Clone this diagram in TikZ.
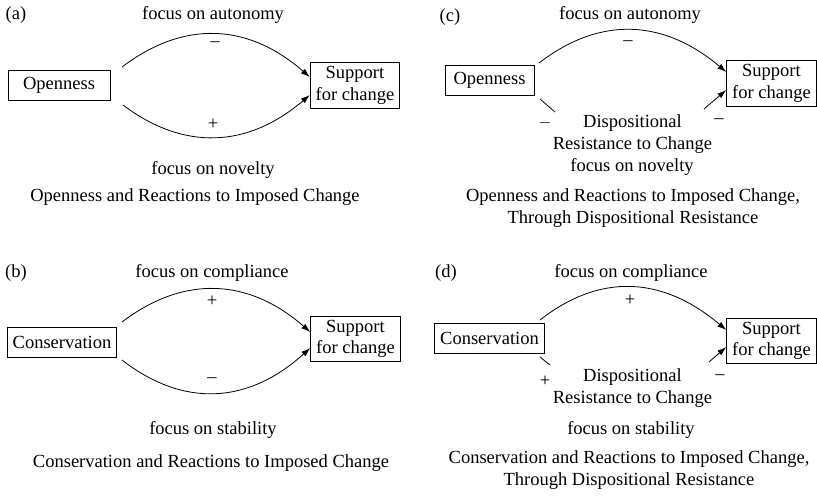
\documentclass[tikz,border=0pt]{standalone}
\usepackage{fontspec}
\setmainfont{Liberation Serif}
\usetikzlibrary{arrows.meta}

\tikzset{
  lbl/.style={font=\fontsize{18.5}{21.5}\selectfont, inner sep=0pt, align=center},
  varbox/.style={draw, line width=0.9pt, font=\fontsize{18.5}{21.5}\selectfont,
    inner xsep=5.5pt, inner ysep=4pt, minimum height=30pt, align=center},
  link/.style={line width=0.8pt},
  linkarrow/.style={link, -{Latex[length=9pt,width=6pt]}}
}

\begin{document}
\begin{tikzpicture}[x=1pt,y=-1pt]
\useasboundingbox (0,0) rectangle (817,496);

% (a) openness
\draw(16,15) node[lbl] (taga) {(a)};
\draw(213,15) node[lbl] (autoa) {focus on autonomy};
\draw(59,85) node[varbox, minimum width=102pt] (opena) {Openness};
\draw(355,85.5) node[varbox] (supa) {Support\\for change};
\coordinate (opena1) at (122,67);
\coordinate (opena2) at (123,105);
\draw[linkarrow] (opena1) .. controls +(62,-47) and +(-62,-54) .. ([yshift=8.5pt]supa.west);
\draw[linkarrow] (opena2) .. controls +(61,46) and +(-62,53) .. ([yshift=-9.5pt]supa.west);
\draw(215,44) node[lbl] (signa1) {\textendash};
\draw(213,124) node[lbl] (signa2) {+};
\draw(213,170) node[lbl] (novela) {focus on novelty};
\draw(195,197) node[lbl] (capa) {Openness and Reactions to Imposed Change};

% (b) conservation
\draw(16,273) node[lbl] (tagb) {(b)};
\draw(212,273) node[lbl] (complb) {focus on compliance};
\draw(62,342) node[varbox] (consb) {Conservation};
\draw(355.5,339) node[varbox] (supb) {Support\\for change};
\coordinate (consb1) at (122,322);
\coordinate (consb2) at (122,360);
\draw[linkarrow] (consb1) .. controls +(62,-47) and +(-62,-54) .. ([yshift=7pt]supb.west);
\draw[linkarrow] (consb2) .. controls +(62,48) and +(-62,56) .. ([yshift=-9pt]supb.west);
\draw(212,301) node[lbl] (signb1) {+};
\draw(212,380) node[lbl] (signb2) {\textendash};
\draw(213,430) node[lbl] (stabb) {focus on stability};
\draw(211,463) node[lbl] (capb) {Conservation and Reactions to Imposed Change};

% (c) openness, through resistance
\draw(450,17) node[lbl] (tagc) {(c)};
\draw(630,15) node[lbl] (autoc) {focus on autonomy};
\draw(489.5,80.5) node[varbox, minimum width=89pt] (openc) {Openness};
\draw(771.5,83.5) node[varbox] (supc) {Support\\for change};
\coordinate (openc1) at (539,63);
\coordinate (openc2) at (540,99);
\coordinate (resc1) at (555,112);
\coordinate (resc2) at (704,109);
\draw[linkarrow] (openc1) .. controls +(61,-47) and +(-63,-53) .. ([yshift=11.5pt]supc.west);
\draw[link] (openc2) -- (resc1);
\draw[linkarrow] (resc2) -- ([yshift=-6.5pt]supc.west);
\draw(628,43) node[lbl] (signc1) {\textendash};
\draw(545,123) node[lbl] (signc2) {$-$};
\draw(719,121) node[lbl] (signc3) {\textendash};
\draw(632.5,134) node[lbl] (resc) {Dispositional\\Resistance to Change};
\draw(632,167) node[lbl] (novelc) {focus on novelty};
\draw(633,208) node[lbl] (capc) {Openness and Reactions to Imposed Change,\\Through Dispositional Resistance};

% (d) conservation, through resistance
\draw(446,273) node[lbl] (tagd) {(d)};
\draw(631,273) node[lbl] (compld) {focus on compliance};
\draw(489.5,338.5) node[varbox] (consd) {Conservation};
\draw(771.5,341) node[varbox] (supd) {Support\\for change};
\coordinate (consd1) at (540,320);
\coordinate (consd2) at (540,357);
\coordinate (resd1) at (550,365);
\coordinate (resd2) at (709,362);
\draw[linkarrow] (consd1) .. controls +(60,-47) and +(-64,-54) .. ([yshift=11pt]supd.west);
\draw[link] (consd2) -- (resd1);
\draw[linkarrow] (resd2) -- ([yshift=-6pt]supd.west);
\draw(630,300) node[lbl] (signd1) {+};
\draw(545,381) node[lbl] (signd2) {+};
\draw(720,377) node[lbl] (signd3) {\textendash};
\draw(632.5,388) node[lbl] (resd) {Dispositional\\Resistance to Change};
\draw(631,430) node[lbl] (stabd) {focus on stability};
\draw(629,470) node[lbl] (capd) {Conservation and Reactions to Imposed Change,\\Through Dispositional Resistance};
\end{tikzpicture}
\end{document}
